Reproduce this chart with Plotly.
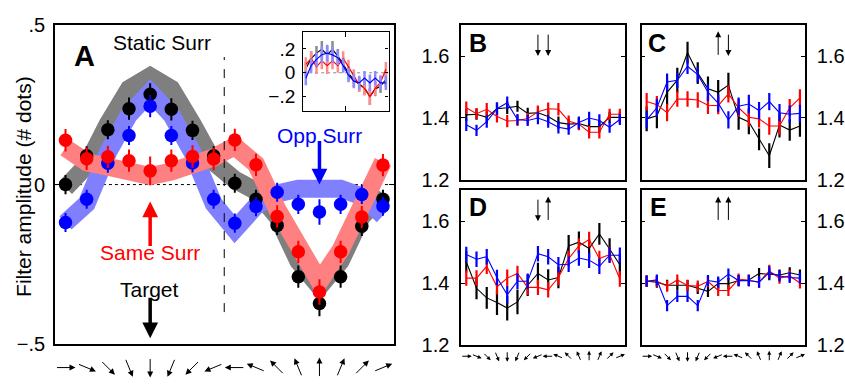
import math
import plotly.graph_objects as go

# ---------------- data ----------------
positions = list(range(16))
directions_deg = [0, 337.5, 315, 292.5, 270, 247.5, 225, 202.5, 180, 157.5, 135, 112.5, 90, 67.5, 45, 22.5]

# Panel A: dots (mean +/- err) and fitted curves
static_mean = [0.0, 0.09, 0.172, 0.238, 0.283, 0.236, 0.17, 0.09, 0.004, -0.046, -0.128, -0.289, -0.373, -0.289, -0.131, -0.046]
static_err = [0.03, 0.03, 0.03, 0.035, 0.035, 0.035, 0.03, 0.03, 0.03, 0.03, 0.03, 0.035, 0.04, 0.035, 0.03, 0.03]
same_mean = [0.139, 0.081, 0.087, 0.075, 0.043, 0.075, 0.088, 0.08, 0.14, 0.062, -0.1, -0.211, -0.337, -0.211, -0.102, 0.061]
same_err = [0.035, 0.035, 0.035, 0.035, 0.045, 0.035, 0.035, 0.035, 0.035, 0.035, 0.035, 0.035, 0.04, 0.035, 0.035, 0.035]
opp_mean = [-0.119, -0.046, 0.067, 0.154, 0.246, 0.154, 0.068, -0.046, -0.121, -0.069, -0.024, -0.062, -0.086, -0.062, -0.031, -0.068]
opp_err = [0.03, 0.03, 0.03, 0.03, 0.035, 0.03, 0.03, 0.03, 0.03, 0.03, 0.03, 0.03, 0.04, 0.03, 0.03, 0.03]

static_fit = [-0.01, 0.06, 0.19, 0.30, 0.34, 0.30, 0.19, 0.07, 0.015, -0.02, -0.10, -0.24, -0.32, -0.24, -0.10, -0.03]
same_fit = [0.115, 0.07, 0.056, 0.041, 0.027, 0.041, 0.056, 0.085, 0.12, 0.064, -0.077, -0.205, -0.304, -0.205, -0.077, 0.071]
opp_fit = [-0.12, -0.06, 0.10, 0.219, 0.29, 0.219, 0.10, -0.06, -0.141, -0.067, -0.028, -0.013, -0.013, -0.013, -0.037, -0.097]

# Inset
inset_static = [0.034, 0.12, 0.165, 0.197, 0.152, 0.197, 0.139, 0.073, -0.005, -0.058, -0.097, -0.124, -0.2, -0.137, -0.11, -0.058]
inset_same = [0.07, 0.12, 0.05, 0.1, 0.06, 0.1, 0.06, 0.12, 0.05, -0.03, -0.1, -0.13, -0.2, -0.13, -0.08, 0.03]
inset_opp = [-0.045, 0.06, 0.113, 0.152, 0.165, 0.15, 0.126, 0.06, -0.02, -0.07, -0.085, -0.045, -0.085, -0.045, -0.085, -0.085]
inset_err = [0.06, 0.06, 0.06, 0.07, 0.07, 0.07, 0.06, 0.06, 0.06, 0.06, 0.06, 0.06, 0.07, 0.06, 0.06, 0.06]

# Panels B-E: black / red / blue series
B_black = [1.41, 1.412, 1.402, 1.43, 1.433, 1.438, 1.415, 1.417, 1.405, 1.385, 1.38, 1.382, 1.372, 1.372, 1.402, 1.402]
B_red = [1.433, 1.414, 1.428, 1.405, 1.39, 1.392, 1.398, 1.42, 1.43, 1.428, 1.39, 1.38, 1.354, 1.354, 1.412, 1.412]
B_blue = [1.378, 1.36, 1.388, 1.43, 1.449, 1.395, 1.392, 1.4, 1.388, 1.37, 1.364, 1.385, 1.4, 1.392, 1.37, 1.395]
B_err = [0.02, 0.018, 0.02, 0.02, 0.02, 0.018, 0.018, 0.02, 0.02, 0.02, 0.018, 0.02, 0.02, 0.02, 0.018, 0.018]

C_black = [1.397, 1.407, 1.483, 1.522, 1.611, 1.545, 1.494, 1.483, 1.506, 1.402, 1.387, 1.331, 1.278, 1.377, 1.361, 1.374]
C_red = [1.453, 1.443, 1.417, 1.461, 1.461, 1.458, 1.441, 1.44, 1.478, 1.433, 1.402, 1.397, 1.374, 1.374, 1.433, 1.465]
C_blue = [1.394, 1.433, 1.516, 1.522, 1.567, 1.54, 1.483, 1.448, 1.394, 1.438, 1.445, 1.424, 1.453, 1.417, 1.412, 1.415]
C_err_black = [0.04, 0.04, 0.04, 0.04, 0.035, 0.035, 0.04, 0.04, 0.04, 0.04, 0.04, 0.035, 0.04, 0.04, 0.035, 0.035]
C_err = [0.028, 0.028, 0.028, 0.025, 0.025, 0.025, 0.028, 0.028, 0.028, 0.028, 0.03, 0.028, 0.028, 0.028, 0.028, 0.028]

D_black = [1.469, 1.383, 1.352, 1.337, 1.319, 1.339, 1.393, 1.431, 1.41, 1.418, 1.52, 1.532, 1.512, 1.559, 1.51, 1.459]
D_red = [1.416, 1.416, 1.454, 1.388, 1.416, 1.431, 1.386, 1.386, 1.378, 1.418, 1.479, 1.52, 1.541, 1.479, 1.492, 1.413]
D_blue = [1.492, 1.477, 1.485, 1.418, 1.362, 1.406, 1.406, 1.495, 1.485, 1.459, 1.461, 1.481, 1.474, 1.454, 1.49, 1.49]
D_err_black = [0.035, 0.035, 0.035, 0.04, 0.04, 0.04, 0.035, 0.035, 0.035, 0.035, 0.035, 0.035, 0.03, 0.035, 0.035, 0.035]
D_err = [0.025, 0.025, 0.025, 0.025, 0.028, 0.025, 0.025, 0.025, 0.025, 0.025, 0.025, 0.025, 0.025, 0.025, 0.025, 0.025]

E_black = [1.406, 1.403, 1.393, 1.393, 1.393, 1.383, 1.373, 1.398, 1.398, 1.408, 1.41, 1.431, 1.429, 1.426, 1.433, 1.426]
E_red = [1.406, 1.406, 1.39, 1.41, 1.392, 1.39, 1.405, 1.376, 1.376, 1.413, 1.408, 1.403, 1.439, 1.416, 1.423, 1.4]
E_blue = [1.406, 1.41, 1.327, 1.357, 1.357, 1.327, 1.408, 1.403, 1.429, 1.408, 1.408, 1.403, 1.434, 1.423, 1.418, 1.416]
E_err = [0.018, 0.018, 0.018, 0.018, 0.018, 0.018, 0.018, 0.018, 0.018, 0.018, 0.018, 0.018, 0.02, 0.018, 0.018, 0.018]

# ---------------- figure ----------------
W, H = 845, 388
FONT = "Liberation Sans, Arial, Helvetica, sans-serif"
BLACK, RED, BLUE = "#000000", "#ff0000", "#0000ff"
GRAY_BAND, RED_BAND, BLUE_BAND = "#7f7f7f", "#ff8080", "#8080ff"

def px_x(a, b):
    return [a / W, b / W]

def px_y(top, bottom):
    return [1 - bottom / H, 1 - top / H]

fig = go.Figure()

# Panel A bands
for fit, col in [(static_fit, GRAY_BAND), (opp_fit, BLUE_BAND), (same_fit, RED_BAND)]:
    fig.add_trace(go.Scatter(x=positions, y=fit, mode="lines", line=dict(color=col, width=18),
                             xaxis="x", yaxis="y", hoverinfo="skip", showlegend=False))
# Panel A dots
for mean, err, col in [(static_mean, static_err, BLACK), (opp_mean, opp_err, BLUE), (same_mean, same_err, RED)]:
    fig.add_trace(go.Scatter(x=positions, y=mean, mode="markers",
                             marker=dict(color=col, size=13.5, line=dict(width=0)),
                             error_y=dict(type="data", array=err, thickness=2, width=0, color=col),
                             xaxis="x", yaxis="y", showlegend=False))

# Inset
for vals, col, ecol in [(inset_static, BLACK, "#8c8c8c"), (inset_same, RED, "#ff8c8c"), (inset_opp, BLUE, "#8c8cff")]:
    fig.add_trace(go.Scatter(x=positions, y=vals, mode="lines", line=dict(color=col, width=1.2),
                             error_y=dict(type="data", array=inset_err, thickness=2.5, width=0, color=ecol),
                             xaxis="x2", yaxis="y2", showlegend=False))

# Panels B-E
panels = [
    ("x3", "y3", [(B_black, B_err, BLACK), (B_red, B_err, RED), (B_blue, B_err, BLUE)]),
    ("x4", "y4", [(C_black, C_err_black, BLACK), (C_red, C_err, RED), (C_blue, C_err, BLUE)]),
    ("x5", "y5", [(D_black, D_err_black, BLACK), (D_red, D_err, RED), (D_blue, D_err, BLUE)]),
    ("x6", "y6", [(E_black, E_err, BLACK), (E_red, E_err, RED), (E_blue, E_err, BLUE)]),
]
for xa, ya, series in panels:
    for vals, err, col in series:
        fig.add_trace(go.Scatter(x=positions, y=vals, mode="lines", line=dict(color=col, width=1.1),
                                 error_y=dict(type="data", array=err, thickness=2.2, width=0, color=col),
                                 xaxis=xa, yaxis=ya, showlegend=False))

def frame(**kw):
    d = dict(showline=True, linecolor="black", linewidth=1.5, showgrid=False, zeroline=False,
             tickcolor="black", tickfont=dict(family=FONT, size=20, color="black"))
    d.update(kw)
    return d

xr = [-0.5, 15.5]
layout = dict(
    width=W, height=H, margin=dict(l=0, r=0, t=0, b=0),
    paper_bgcolor="white", plot_bgcolor="rgba(0,0,0,0)",
    font=dict(family=FONT, color="black"),
    showlegend=False,
    xaxis=frame(domain=px_x(55, 394), anchor="y", range=xr, showticklabels=False, ticks="", mirror=True),
    yaxis=frame(domain=px_y(15, 353), anchor="x", range=[-0.5, 0.5], tickvals=[-0.5, 0, 0.5],
                ticktext=["\u2212.5", "0", ".5"], ticks="inside", ticklen=5, mirror="ticks",
                ticklabelstandoff=4),
    xaxis2=frame(domain=px_x(303.5, 389), anchor="y2", range=xr, showticklabels=False, ticks="inside",
                 ticklen=5, tickvals=[7.5], mirror="ticks", linewidth=1.2),
    yaxis2=frame(domain=px_y(22.5, 106), anchor="x2", range=[-0.32, 0.34], tickvals=[-0.2, 0, 0.2],
                 ticktext=["\u2212.2", "0", ".2"], ticks="inside", ticklen=3, mirror="ticks", linewidth=1.2,
                 tickfont=dict(family=FONT, size=19, color="black"), ticklabelstandoff=3),
)
for n, (xd, yd, side) in zip([3, 4, 5, 6], [
        (px_x(461.7, 625.7), px_y(15, 179), "left"),
        (px_x(642.3, 806), px_y(15, 179), "right"),
        (px_x(461.7, 625.7), px_y(190, 354), "left"),
        (px_x(642.3, 806), px_y(190, 354), "right")]):
    layout[f"xaxis{n}"] = frame(domain=xd, anchor=f"y{n}", range=xr, showticklabels=False, ticks="", mirror=True)
    layout[f"yaxis{n}"] = frame(domain=yd, anchor=f"x{n}", range=[1.2, 1.7], tickvals=[1.2, 1.4, 1.6],
                                ticktext=["1.2", "1.4", "1.6"], ticks="inside", ticklen=4, mirror="ticks",
                                side=side, ticklabelstandoff=6)

shapes = [
    dict(type="line", xref="x", yref="y", x0=-0.5, x1=15.5, y0=0, y1=0, layer="below",
         line=dict(color="black", width=1, dash="dot")),
    dict(type="line", xref="x", yref="y", x0=7.5, x1=7.5, y0=-0.4, y1=0.4,
         line=dict(color="black", width=1, dash="dash")),
    dict(type="line", xref="x2", yref="y2", x0=-0.5, x1=15.5, y0=0, y1=0, layer="below",
         line=dict(color="#888888", width=1, dash="dot")),
]

ann = []
def text(x, y, s, size=21, color="black", bold=False, angle=0):
    ann.append(dict(x=x / W, y=1 - y / H, xref="paper", yref="paper", text=(f"<b>{s}</b>" if bold else s),
                    showarrow=False, xanchor="center", yanchor="middle", textangle=angle,
                    font=dict(family=FONT, size=size, color=color)))

text(85, 48, "A", size=29, bold=True)
text(161.7, 33, "Static Surr")
text(320, 132, "Opp Surr", color=BLUE)
text(150, 256, "Same Surr", color=RED)
text(150, 295, "Target")
text(23.5, 186, "Filter amplitude (# dots)", angle=-90)
text(479, 34, "B", size=25, bold=True)
text(658, 34, "C", size=25, bold=True)
text(479, 208, "D", size=25, bold=True)
text(659, 208, "E", size=25, bold=True)

def arrow(x, y, xref, yref, ay, color="black", width=1.0, size=1.0, ax=0):
    ann.append(dict(x=x, y=y, xref=xref, yref=yref, text="", showarrow=True, arrowhead=2,
                    arrowsize=size, arrowwidth=width, arrowcolor=color, ax=ax, ay=ay,
                    axref="pixel", ayref="pixel"))

# big arrows in A
arrow(12, 0.0, "x", "y", -45, color=BLUE, width=3.5, size=0.9)
arrow(4, -0.053, "x", "y", 46, color=RED, width=3.5, size=0.9)
arrow(4, -0.482, "x", "y", -42, color=BLACK, width=3.5, size=0.9)

# little surround/target arrows in B-E
arrow(7, 1.6, "x3", "y3", -23, size=1.2); arrow(8, 1.6, "x3", "y3", -23, size=1.2)
arrow(7, 1.68, "x4", "y4", 25, size=1.2); arrow(8, 1.6, "x4", "y4", -23, size=1.2)
arrow(7, 1.6, "x5", "y5", -23, size=1.2); arrow(8, 1.68, "x5", "y5", 25, size=1.2)
arrow(7, 1.68, "x6", "y6", 25, size=1.2); arrow(8, 1.68, "x6", "y6", 25, size=1.2)

# direction arrows under axes
def dir_arrows(xref, ycenter_px, L, size):
    for i, ang in zip(positions, directions_deg):
        th = math.radians(ang)
        c, s = math.cos(th), math.sin(th)
        ann.append(dict(x=i, y=1 - ycenter_px / H, xref=xref, yref="paper", text="", showarrow=True,
                        arrowhead=2, arrowsize=size, arrowwidth=1, arrowcolor="black",
                        ax=-L * c, ay=L * s, axref="pixel", ayref="pixel",
                        xshift=L / 2 * c, yshift=L / 2 * s))

dir_arrows("x", 378, 20, 1.2)
dir_arrows("x5", 366, 11, 0.8)
dir_arrows("x6", 366, 11, 0.8)

layout["shapes"] = shapes
layout["annotations"] = ann
fig.update_layout(**layout)
fig.write_html("out.html", config={"displayModeBar": False},
               post_script="document.body.style.margin='0px';document.body.style.overflow='hidden';")
